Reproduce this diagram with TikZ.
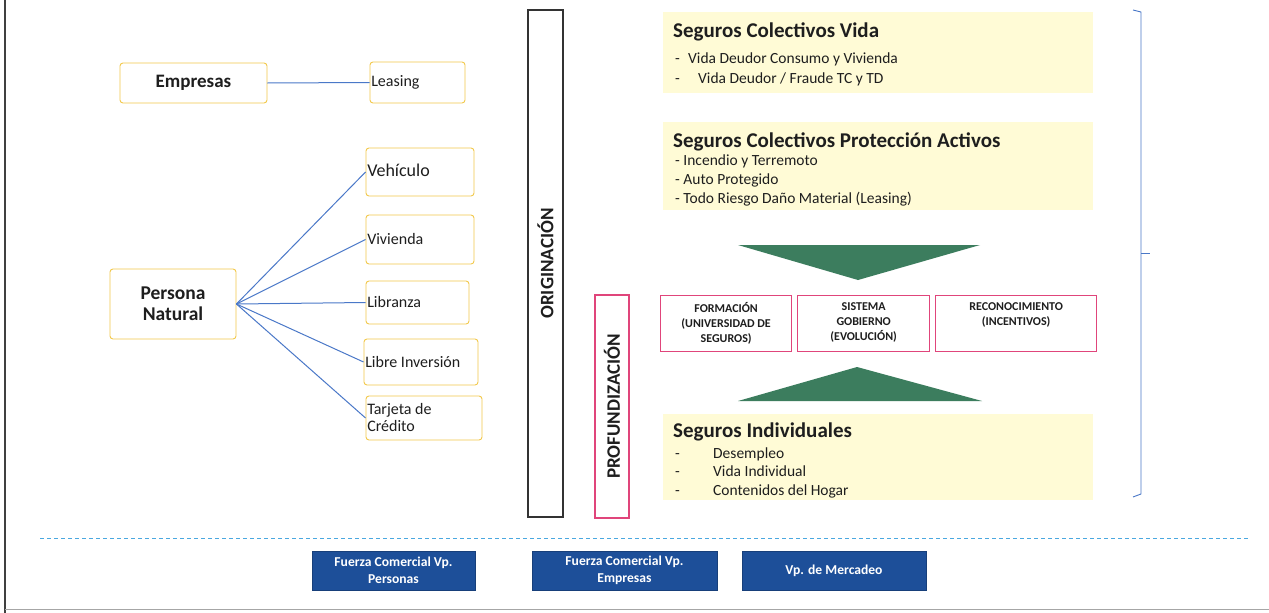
\documentclass[tikz,border=0pt]{standalone}
\usepackage{fontspec}
\setmainfont{Carlito}
\definecolor{boxgold}{HTML}{F2C94C}
\definecolor{yfill}{HTML}{FFFBD6}
\definecolor{pinkc}{HTML}{E0457B}
\definecolor{bluec}{HTML}{1D4F99}
\definecolor{linkblue}{HTML}{4A78C8}
\definecolor{greenc}{HTML}{3C7D5E}
\definecolor{dashc}{HTML}{4AA8E0}
\definecolor{txt}{HTML}{1E1E1E}
\newcommand{\fs}[1]{\fontsize{#1pt}{\dimexpr #1pt*6/5\relax}\selectfont}
\begin{document}
\begin{tikzpicture}[x=1pt,y=-1pt, text=txt,
  lbox/.style={draw=boxgold, rounded corners=3pt, line width=0.9pt, fill=white, inner sep=2pt},
  ltxt/.style={anchor=west, inner sep=0pt, align=left, font=\fs{16}},
  ybox/.style={fill=yfill, draw=none, inner sep=0pt},
  pbox/.style={draw=pinkc, line width=1.3pt, inner sep=0pt},
  bbox/.style={fill=bluec, draw=bluec!80!black, text=white, font=\bfseries\fontsize{13.6pt}{17pt}\selectfont, align=center, inner sep=0pt, minimum height=39pt},
  conn/.style={draw=linkblue, line width=1pt},
  itm/.style={anchor=base west, inner sep=0pt, font=\fs{15.5}},
  dsh/.style={anchor=base west, inner sep=0pt, font=\fs{15.5}},
  ttl/.style={anchor=base west, inner sep=0pt, font=\bfseries\fs{21}},
  ptxt/.style={anchor=north, inner sep=0pt, align=center, font=\bfseries\fontsize{12pt}{15pt}\selectfont},
  vtxt/.style={rotate=90, font=\bfseries\fs{19}, inner sep=0pt}]
\useasboundingbox (0,0) rectangle (1269,613);
\fill[white] (0,0) rectangle (1269,613);
% frame
\coordinate (fTL) at (5,0); \coordinate (fBL) at (5,613);
\draw[line width=2pt, black!75] (fTL) -- (fBL);
\coordinate (bL) at (5,609); \coordinate (bR) at (1269,609);
\draw[line width=1pt, black!35] (bL) -- (bR);

% left tree
\node[lbox, minimum width=147pt, minimum height=40pt, font=\bfseries\fs{19}] (emp) at (193.5,83) {Empresas};
\node[lbox, minimum width=126pt, minimum height=70pt, align=center, font=\bfseries\fontsize{19.5pt}{21pt}\selectfont] (pn) at (173,304) {Persona\\Natural};
\node[lbox, minimum width=95pt, minimum height=41pt] (leas) at (417.5,82.5) {};
\node[ltxt] (least) at ([xshift=1.5pt]leas.west) {Leasing};
\node[lbox, minimum width=108pt, minimum height=48pt] (veh) at (420,172) {};
\node[ltxt, font=\fs{18}] (veht) at ([xshift=1.5pt,yshift=1.5pt]veh.west) {Vehículo};
\node[lbox, minimum width=108pt, minimum height=49pt] (viv) at (420,239.5) {};
\node[ltxt] (vivt) at ([xshift=1.5pt]viv.west) {Vivienda};
\node[lbox, minimum width=103pt, minimum height=43pt] (lib) at (417.5,302.5) {};
\node[ltxt] (libt) at ([xshift=1.5pt]lib.west) {Libranza};
\node[lbox, minimum width=114pt, minimum height=46pt] (li) at (421,362) {};
\node[ltxt] (lit) at ([xshift=1.5pt]li.west) {Libre Inversión};
\node[lbox, minimum width=116pt, minimum height=44pt] (tc) at (424,418) {};
\node[ltxt, font=\fontsize{16pt}{17pt}\selectfont] (tct) at ([xshift=1.5pt,yshift=1pt]tc.west) {Tarjeta de\\Crédito};
\draw[conn] (emp.east) -- (leas.west);
\foreach \t in {veh,viv,lib,li,tc} \draw[conn] (pn.east) -- (\t.west);

% vertical labels
\node[draw=black!80, line width=1.5pt, minimum width=35pt, minimum height=507pt, inner sep=0pt] (orig) at (545.5,263.5) {};
\node[vtxt] (origt) at (orig.center) {ORIGINACIÓN};
\node[pbox, minimum width=34pt, minimum height=223pt] (prof) at (612,406.5) {};
\node[vtxt] (proft) at (prof.center) {PROFUNDIZACIÓN};

% yellow boxes
\node[ybox, minimum width=430pt, minimum height=81pt, anchor=north west] (y1) at (663,12) {};
\node[ttl] (y1t) at (673,37) {Seguros Colectivos Vida};
\node[dsh] (y1ad) at (675,63) {-};
\node[itm] (y1a) at (688,63) {Vida Deudor Consumo y Vivienda};
\node[dsh] (y1bd) at (675,83) {-};
\node[itm] (y1b) at (698,83) {Vida Deudor / Fraude TC y TD};

\node[ybox, minimum width=430pt, minimum height=88pt, anchor=north west] (y2) at (663,122) {};
\node[ttl] (y2t) at (673,147) {Seguros Colectivos Protección Activos};
\node[itm] (y2a) at (675,165) {- Incendio y Terremoto};
\node[itm] (y2b) at (675,184) {- Auto Protegido};
\node[itm] (y2c) at (675,203) {- Todo Riesgo Daño Material (Leasing)};

\node[ybox, minimum width=430pt, minimum height=86pt, anchor=north west] (y3) at (663,414) {};
\node[ttl] (y3t) at (673,437) {Seguros Individuales};
\node[dsh] (y3ad) at (675,458) {-};
\node[itm] (y3a) at (713,458) {Desempleo};
\node[dsh] (y3bd) at (675,476) {-};
\node[itm] (y3b) at (713,476) {Vida Individual};
\node[dsh] (y3cd) at (675,495) {-};
\node[itm] (y3c) at (713,495) {Contenidos del Hogar};

% triangles
\fill[greenc] (738,245) -- (980,245) -- (858,280) -- cycle;
\fill[greenc] (857,367) -- (982,401) -- (738,401) -- cycle;

% pink boxes
\node[pbox, minimum width=131pt, minimum height=56pt, anchor=north west] (p1) at (660,295) {};
\node[ptxt] (p1t) at ([yshift=-7pt]p1.north) {FORMACIÓN\\(UNIVERSIDAD DE\\SEGUROS)};
\node[pbox, minimum width=132pt, minimum height=56pt, anchor=north west] (p2) at (797,295) {};
\node[ptxt] (p2t) at ([yshift=-7pt]p2.north) {SISTEMA\\GOBIERNO\\(EVOLUCIÓN)};
\node[pbox, minimum width=161pt, minimum height=56pt, anchor=north west] (p3) at (935,295) {};
\node[ptxt] (p3t) at ([yshift=-7pt]p3.north) {RECONOCIMIENTO\\(INCENTIVOS)};

% right bracket
\coordinate (r1) at (1133,10); \coordinate (r2) at (1141,12);
\coordinate (r3) at (1141,494); \coordinate (r4) at (1133,497);
\coordinate (rm) at (1141,253); \coordinate (rt) at (1150,253);
\draw[linkblue, line width=0.9pt] (r1) -- (r2) -- (r3) -- (r4);
\draw[linkblue, line width=0.9pt] (rm) -- (rt);

% dashed separator
\coordinate (dL) at (40,538); \coordinate (dR) at (1250,538);
\draw[dashc, line width=1pt, dash pattern=on 4pt off 3pt] (dL) -- (dR);

% bottom boxes
\node[bbox, minimum width=163pt] (b1) at (393.5,570.5) {Fuerza Comercial Vp.\\Personas};
\node[bbox, minimum width=185pt] (b2) at (624.5,570.5) {Fuerza Comercial Vp.\\Empresas};
\node[bbox, minimum width=184pt] (b3) at (834,570.5) {Vp. de Mercadeo};
\end{tikzpicture}
\end{document}
